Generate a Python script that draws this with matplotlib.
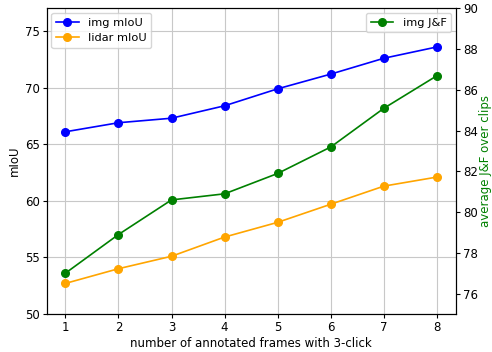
import matplotlib
matplotlib.use('Agg')
import matplotlib.pyplot as plt

plt.rcParams['font.size'] = 8.5
plt.rcParams['xtick.major.size'] = 2.6
plt.rcParams['ytick.major.size'] = 2.6
plt.rcParams['xtick.major.pad'] = 2.6
plt.rcParams['ytick.major.pad'] = 2.6

frames = [1, 2, 3, 4, 5, 6, 7, 8]
img_miou = [66.1, 66.9, 67.3, 68.4, 69.9, 71.2, 72.6, 73.6]
lidar_miou = [52.7, 54.0, 55.1, 56.8, 58.1, 59.7, 61.3, 62.1]
img_jf = [77.0, 78.9, 80.6, 80.9, 81.9, 83.2, 85.1, 86.7]

fig = plt.figure(figsize=(4.92, 3.52), dpi=100)
ax = fig.add_axes([0.095, 0.108, 0.831, 0.868])
ax.plot(frames, img_miou, 'o-', color='blue', label='img mIoU', markersize=5.5, linewidth=1.2)
ax.plot(frames, lidar_miou, 'o-', color='orange', label='lidar mIoU', markersize=5.5, linewidth=1.2)
ax.set_ylim(50, 77)
ax.set_xticks(frames)
ax.set_xlabel('number of annotated frames with 3-click', labelpad=2)
ax.set_ylabel('mIoU', labelpad=3)
ax.grid(True, color='#c8c8c8', linewidth=0.8)
ax.legend(loc='upper left', borderaxespad=0.4, handlelength=2.0, fontsize=8.2)

ax2 = ax.twinx()
ax2.plot(frames, img_jf, 'o-', color='green', label='img J&F', markersize=5.5, linewidth=1.2)
ax2.set_ylim(75, 90)
ax2.set_ylabel('average J&F over clips', color='green', labelpad=1)
ax2.legend(loc='upper right', borderaxespad=0.4, handlelength=2.0, fontsize=8.2)

fig.savefig('out.png', dpi=100)
